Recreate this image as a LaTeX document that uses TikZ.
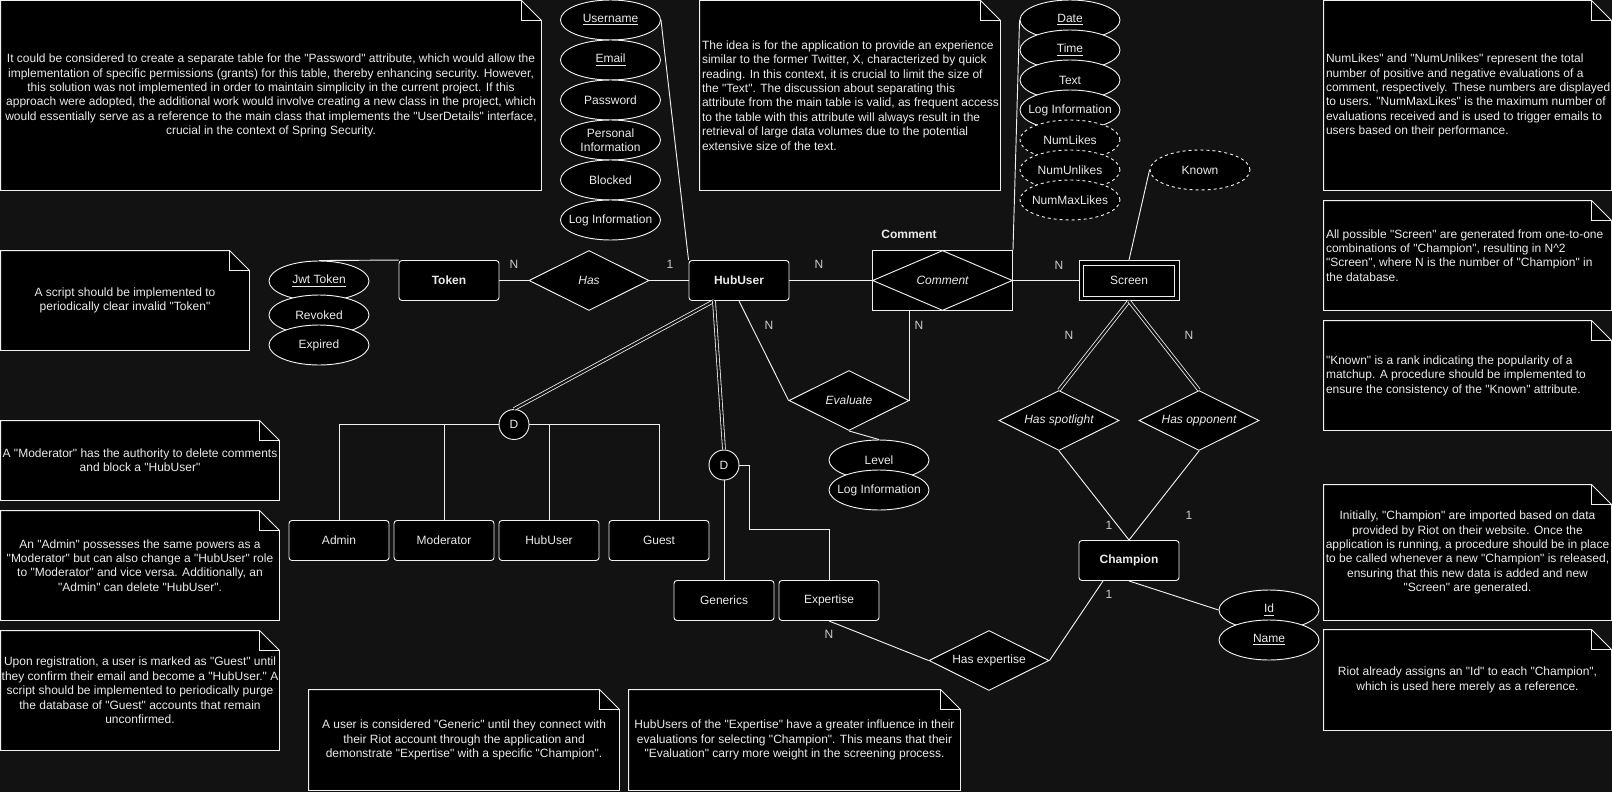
\documentclass[tikz,border=0pt]{standalone}
\usepackage{fontspec}
\setmainfont{Liberation Sans}[Ligatures=TeXOff]
\usepackage{tikz}
\usetikzlibrary{shapes.geometric, calc}
\definecolor{bgcol}{RGB}{18,18,18}
\definecolor{linecol}{RGB}{240,240,240}
\definecolor{txtcol}{RGB}{235,235,235}
\definecolor{cardcol}{RGB}{205,205,205}
\newcommand{\erfont}{\fontsize{9}{10.8}\selectfont}
% folded corner of a note box
\newcommand{\notefold}[1]{%
  \fill[bgcol] ([xshift=-15pt]#1.north east) -- (#1.north east) -- ([yshift=-15pt]#1.north east) -- cycle;
  \draw (#1.south west) -- (#1.north west) -- ([xshift=-15pt]#1.north east)
    -- ([yshift=-15pt]#1.north east) -- (#1.south east) -- cycle;
  \draw ([xshift=-15pt]#1.north east) -- ([shift={(-15pt,-15pt)}]#1.north east)
    -- ([yshift=-15pt]#1.north east);}

\begin{document}
\begin{tikzpicture}[x=0.75pt, y=-0.75pt, line width=0.7pt, color=linecol, text=txtcol, font=\erfont,
  note/.style={rectangle, fill=black, inner sep=0pt, align=center},
  lnote/.style={align=left, anchor=west, inner sep=0pt, label distance=-1.5pt},
  entity/.style={rectangle, rounded corners=2.25pt, draw=linecol, fill=black, minimum width=75pt, minimum height=30pt, inner sep=0pt},
  bentity/.style={entity, font=\erfont\bfseries},
  assoc/.style={rectangle, draw=linecol, fill=black, minimum width=105pt, minimum height=45pt, inner sep=0pt},
  weak/.style={rectangle, draw=linecol, fill=black, minimum width=75pt, minimum height=30pt, inner sep=0pt},
  rel/.style={diamond, aspect=2, draw=linecol, fill=black, minimum width=90pt, minimum height=45pt, inner sep=0pt, font=\erfont\itshape},
  attr/.style={ellipse, draw=linecol, fill=black, minimum width=75pt, minimum height=30pt, inner xsep=-8pt, inner ysep=0pt, align=center},
  dattr/.style={attr, dash pattern=on 2.25pt off 2.25pt},
  disj/.style={circle, draw=linecol, fill=black, minimum size=22.5pt, inner sep=0pt},
  card/.style={text=cardcol, inner sep=0pt},
  total/.style={double=bgcol, double distance=1.6pt, line width=0.6pt}]

  \fill[bgcol] (0,0) rectangle (1612,792);
  \useasboundingbox (0,0) rectangle (1612,792);

  % Notes
  \node[note, minimum width=405pt, minimum height=141.75pt] (noteGrant) at (271,95.5) {It could be considered to create a separate table for the "Password" attribute, which would allow the\\implementation of specific permissions (grants) for this table, thereby enhancing security. However,\\this solution was not implemented in order to maintain simplicity in the current project. If this\\approach were adopted, the additional work would involve creating a new class in the project, which\\would essentially serve as a reference to the main class that implements the "UserDetails" interface,\\crucial in the context of Spring Security.};
  \node[note, minimum width=225pt, minimum height=141.75pt, label={[lnote]west:{The idea is for the application to provide an experience\\similar to the former Twitter, X, characterized by quick\\reading. In this context, it is crucial to limit the size of\\the "Text". The discussion about separating this\\attribute from the main table is valid, as frequent access\\to the table with this attribute will always result in the\\retrieval of large data volumes due to the potential\\extensive size of the text.}}] (noteText) at (850,95.5) {};
  \node[note, minimum width=215.25pt, minimum height=141.75pt, label={[lnote]west:{NumLikes" and "NumUnlikes" represent the total\\number of positive and negative evaluations of a\\comment, respectively. These numbers are displayed\\to users. "NumMaxLikes" is the maximum number of\\evaluations received and is used to trigger emails to\\users based on their performance.}}] (noteLikes) at (1467.5,95.5) {};
  \node[note, minimum width=215.25pt, minimum height=81.75pt, label={[lnote]west:{All possible "Screen" are generated from one-to-one\\combinations of "Champion", resulting in N\textasciicircum 2\\"Screen", where N is the number of "Champion" in\\the database.}}] (noteScreen) at (1467.5,255.5) {};
  \node[note, minimum width=215.25pt, minimum height=81.75pt, label={[lnote]west:{"Known" is a rank indicating the popularity of a\\matchup. A procedure should be implemented to\\ensure the consistency of the "Known" attribute.}}] (noteKnown) at (1467.5,375.5) {};
  \node[note, minimum width=186pt, minimum height=74.25pt] (noteToken) at (125,300.5) {A script should be implemented to\\periodically clear invalid "Token"};
  \node[note, minimum width=208.5pt, minimum height=59.25pt] (noteMod) at (140,460.5) {A "Moderator" has the authority to delete comments\\and block a "HubUser"};
  \node[note, minimum width=208.5pt, minimum height=81.75pt] (noteAdmin) at (140,565.5) {An "Admin" possesses the same powers as a\\"Moderator" but can also change a "HubUser" role\\to "Moderator" and vice versa. Additionally, an\\"Admin" can delete "HubUser".};
  \node[note, minimum width=208.5pt, minimum height=89.25pt] (noteGuest) at (140,690.5) {Upon registration, a user is marked as "Guest" until\\they confirm their email and become a "HubUser." A\\script should be implemented to periodically purge\\the database of "Guest" accounts that remain\\unconfirmed.};
  \node[note, minimum width=232.5pt, minimum height=75pt] (noteGeneric) at (464,740) {A user is considered "Generic" until they connect with\\their Riot account through the application and\\demonstrate "Expertise" with a specific "Champion".};
  \node[note, minimum width=248.25pt, minimum height=75pt] (noteWeight) at (794.5,740) {HubUsers of the "Expertise" have a greater influence in their\\evaluations for selecting "Champion". This means that their\\"Evaluation" carry more weight in the screening process.};
  \node[note, minimum width=215.25pt, minimum height=101.25pt] (noteImport) at (1467.5,552.5) {Initially, "Champion" are imported based on data\\provided by Riot on their website. Once the\\application is running, a procedure should be in place\\to be called whenever a new "Champion" is released,\\ensuring that this new data is added and new\\"Screen" are generated.};
  \node[note, minimum width=215.25pt, minimum height=75pt] (noteRiotId) at (1467.5,680) {Riot already assigns an "Id" to each "Champion",\\which is used here merely as a reference.};
  \notefold{noteGrant} \notefold{noteText} \notefold{noteLikes} \notefold{noteScreen}
  \notefold{noteKnown} \notefold{noteToken} \notefold{noteMod} \notefold{noteAdmin}
  \notefold{noteGuest} \notefold{noteGeneric} \notefold{noteWeight} \notefold{noteImport}
  \notefold{noteRiotId}

  % Entities
  \node[bentity] (token) at (449,280.5) {Token};
  \node[bentity] (hub) at (739,280.5) {HubUser};
  \node[assoc] (cbox) at (942.5,280.5) {};
  \node[rel, minimum width=105pt, aspect=2.33] (comment) at (cbox) {Comment};
  \node[font=\erfont\bfseries] (commentLbl) at (909,234) {Comment};
  \node[weak] (screen) at (1129,280.5) {Screen};
  \draw ([shift={(3.75pt,-3.75pt)}]screen.north west) rectangle ([shift={(-3.75pt,3.75pt)}]screen.south east);
  \node[bentity] (champ) at (1129,560.5) {Champion};
  \node[entity] (admin) at (339,540.5) {Admin};
  \node[entity] (moder) at (444,540.5) {Moderator};
  \node[entity] (hubRole) at (549,540.5) {HubUser};
  \node[entity] (guest) at (659,540.5) {Guest};
  \node[entity] (generics) at (724,600.5) {Generics};
  \node[entity] (expertise) at (829,600.5) {Expertise};

  % Relationships
  \node[rel] (has) at (589,280.5) {Has};
  \node[rel] (eval) at (849,400.5) {Evaluate};
  \node[rel] (spot) at (1059,420.5) {Has spotlight};
  \node[rel] (opp) at (1199,420.5) {Has opponent};
  \node[rel, font=\erfont] (hasExp) at (989,660.5) {Has expertise};
  \node[disj] (dRole) at (514,424.5) {D};
  \node[disj] (dLevel) at (724,465) {D};

  % Attributes
  \node[attr] (jwt) at (319,281) {\underline{Jwt Token}};
  \node[attr] (revoked) at (319,315) {Revoked};
  \node[attr] (expired) at (319,345) {Expired};
  \node[attr] (user) at (610.5,20) {\underline{Username}};
  \node[attr] (email) at (610.5,60) {\underline{Email}};
  \node[attr] (pass) at (610.5,100) {Password};
  \node[attr] (pinfo) at (610.5,140) {Personal\\Information};
  \node[attr] (blocked) at (610.5,180) {Blocked};
  \node[attr] (hubLog) at (610.5,220) {Log Information};
  \node[attr] (date) at (1070,20) {\underline{Date}};
  \node[attr] (time) at (1070,50) {\underline{Time}};
  \node[attr] (text) at (1070,80) {Text};
  \node[attr] (comLog) at (1070,110) {Log Information};
  \node[dattr] (likes) at (1070,140) {NumLikes};
  \node[dattr] (unlikes) at (1070,170) {NumUnlikes};
  \node[dattr] (maxLikes) at (1070,200) {NumMaxLikes};
  \node[dattr] (known) at (1200,170) {Known};
  \node[attr] (level) at (879,460) {Level};
  \node[attr] (evalLog) at (879,490) {Log Information};
  \node[attr] (id) at (1269,610) {\underline{Id}};
  \node[attr] (name) at (1269,640) {\underline{Name}};

  % Connectors
  \draw (jwt.north) -- (token.north west);
  \draw (token.east) -- (has.west);
  \draw (has.east) -- (hub.west);
  \draw (user.east) -- (hub.north west);
  \draw (hub.east) -- (cbox.west);
  \draw (date.west) -- (cbox.north east);
  \draw (cbox.east) -- (screen.west);
  \draw (known.west) -- (screen.north);
  \draw (hub.south) -- (eval.west);
  \draw (eval.east |- cbox.south) -- (eval.east);
  \draw (eval.south) -- (level.north);
  \draw[total] ([xshift=-18.75pt]hub.south) -- (dRole.north);
  \draw[total] ([xshift=-18.75pt]hub.south) -- (dLevel.north);
  \draw (dRole.west) -| (admin.north);
  \draw (dRole.west) -| (moder.north);
  \draw (dRole.east) -| (hubRole.north);
  \draw (dRole.east) -| (guest.north);
  \draw (dLevel.south) -- (generics.north);
  \draw (dLevel.east) -- ++(10,0) |- ($(expertise.north)+(0,-51)$) -- (expertise.north);
  \draw[total] (screen.south) -- (spot.north);
  \draw[total] (screen.south) -- (opp.north);
  \draw (spot.south) -- (champ.north);
  \draw (opp.south) -- (champ.north);
  \draw ([xshift=-19.5pt]champ.south) -- (hasExp.east);
  \draw (expertise.south) -- (hasExp.west);
  \draw (champ.south) -- (id.west);

  % Cardinalities
  \node[card] (cTokHas) at (514,264) {N};
  \node[card] (cHasHub) at (670,264) {1};
  \node[card] (cHubCom) at (819,264) {N};
  \node[card] (cComScr) at (1059,265) {N};
  \node[card] (cHubEva) at (769,325) {N};
  \node[card] (cComEva) at (919,325) {N};
  \node[card] (cScrSpot) at (1069,335) {N};
  \node[card] (cScrOpp) at (1189,335) {N};
  \node[card] (cSpotCh) at (1109,525) {1};
  \node[card] (cOppCh) at (1189,515) {1};
  \node[card] (cChExp) at (1109,594) {1};
  \node[card] (cExpExp) at (829,634) {N};
\end{tikzpicture}
\end{document}
